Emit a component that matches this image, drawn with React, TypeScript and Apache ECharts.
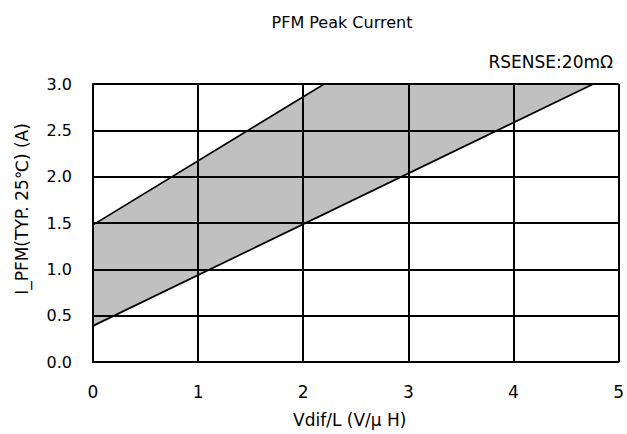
import React, { useEffect, useRef } from "react";
import * as echarts from "echarts";

const titleText = "PFM Peak Current";
const noteText = "RSENSE:20mΩ";
const xAxisName = "Vdif/L (V/μ H)";
const yAxisName = "I_PFM(TYP. 25℃) (A)";

const xTicks = [0, 1, 2, 3, 4, 5];
const yTicks = [0, 0.5, 1.0, 1.5, 2.0, 2.5, 3.0];

// boundary lines of the band [x, y]
const upperLine: number[][] = [
  [0, 1.48],
  [2.2, 3.0],
];
const lowerLine: number[][] = [
  [0, 0.39],
  [4.76, 3.0],
];

const FONT = "'DejaVu Sans', 'Liberation Sans', sans-serif";

export default function App() {
  const ref = useRef<HTMLDivElement>(null);
  useEffect(() => {
    if (!ref.current) return;
    const chart = echarts.init(ref.current, undefined, { renderer: "svg" });
    const band = [...upperLine, ...lowerLine.slice().reverse()];
    chart.setOption({
      animation: false,
      backgroundColor: "#ffffff",
      title: {
        text: titleText,
        left: 337,
        top: 9,
        textAlign: "center",
        textStyle: { fontFamily: FONT, fontSize: 16, fontWeight: "normal", color: "#000" },
      },
      graphic: [
        {
          type: "text",
          right: 14,
          top: 53,
          style: { text: noteText, font: `17px ${FONT}`, fill: "#000" },
        },
      ],
      grid: { left: 93, right: 6, top: 84, bottom: 72, containLabel: false },
      xAxis: {
        type: "value",
        min: xTicks[0],
        max: xTicks[xTicks.length - 1],
        interval: 1,
        name: xAxisName,
        nameLocation: "middle",
        nameGap: 49,
        nameTextStyle: { fontFamily: FONT, fontSize: 17, color: "#000", padding: [0, 12, 0, 0] },
        axisLine: { lineStyle: { color: "#000", width: 2 } },
        axisTick: { show: false },
        axisLabel: { fontFamily: FONT, fontSize: 17, color: "#000", margin: 21 },
        splitLine: { lineStyle: { color: "#000", width: 2 } },
      },
      yAxis: {
        type: "value",
        min: yTicks[0],
        max: yTicks[yTicks.length - 1],
        interval: 0.5,
        name: yAxisName,
        nameLocation: "middle",
        nameGap: 63,
        nameTextStyle: { fontFamily: FONT, fontSize: 17, color: "#000", padding: [0, 0, 0, 28] },
        axisLine: { show: true, lineStyle: { color: "#000", width: 2 } },
        axisTick: { show: false },
        axisLabel: {
          fontFamily: FONT,
          fontSize: 16,
          color: "#000",
          margin: 21,
          formatter: (v: number) => v.toFixed(1),
        },
        splitLine: { lineStyle: { color: "#000", width: 2 } },
      },
      series: [
        {
          type: "custom",
          z: -1,
          data: band,
          renderItem: (params: any, api: any) => {
            if (params.dataIndex !== 0) return null;
            const pts = band.map((p) => api.coord(p));
            return {
              type: "polygon",
              shape: { points: pts },
              style: { fill: "#c0c0c0", stroke: "none" },
            };
          },
          silent: true,
        },
        {
          type: "line",
          data: upperLine,
          symbol: "none",
          lineStyle: { color: "#000", width: 1.7 },
          z: 3,
        },
        {
          type: "line",
          data: lowerLine,
          symbol: "none",
          lineStyle: { color: "#000", width: 1.7 },
          z: 3,
        },
      ],
    });
    return () => chart.dispose();
  }, []);
  return <div ref={ref} style={{ width: 627, height: 434, position: "absolute", left: 0, top: 0 }} />;
}
